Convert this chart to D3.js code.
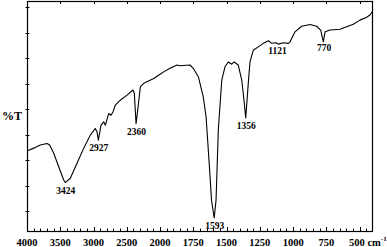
<!DOCTYPE html>
<html>
<head>
<meta charset="utf-8">
<script src="https://cdn.jsdelivr.net/npm/d3@7"></script>
<style>
  body { margin: 0; background: #fff; }
  text { font-family: "Liberation Serif", "Times New Roman", serif; font-weight: bold; fill: #000; }
</style>
</head>
<body>
<script>
// data
const wavenumbers = [4000, 3899, 3800, 3699, 3659, 3598, 3523, 3448, 3424, 3349,
  3248, 3147, 3048, 2973, 2947, 2927, 2887, 2846, 2822, 2771,
  2737, 2707, 2672, 2597, 2496, 2406, 2386, 2360, 2335, 2296,
  2245, 2094, 2000, 1972, 1925, 1872, 1850, 1775, 1750, 1712,
  1675, 1654, 1632, 1613, 1593, 1579, 1562, 1536, 1512, 1487,
  1461, 1444, 1412, 1386, 1369, 1356, 1337, 1324, 1299, 1262,
  1224, 1186, 1161, 1129, 1111, 1074, 1036, 1023, 986, 936,
  873, 823, 793, 773, 760, 723, 648, 598, 548, 498,
  448, 423, 406];
const transmittance = [33.6, 34.7, 35.9, 36.5, 35.9, 32.7, 27.4, 22.2, 21.2, 22.9,
  28.8, 34.7, 39.8, 42.4, 41.1, 37.8, 43.7, 45.0, 43.7, 48.3,
  47.6, 48.9, 51.6, 53.5, 55.5, 57.5, 56.2, 44.3, 49.6, 58.7,
  60.1, 62.0, 63.7, 64.6, 66.0, 67.3, 67.0, 67.3, 66.0, 62.7,
  54.8, 47.0, 30.0, 14.3, 7.3, 14.3, 41.8, 61.4, 66.6, 68.5,
  67.6, 68.5, 67.3, 61.4, 53.5, 46.5, 60.1, 68.5, 73.1, 74.4,
  75.8, 76.8, 75.8, 76.0, 75.5, 76.0, 75.8, 76.4, 80.3, 82.5,
  83.2, 82.5, 81.0, 76.4, 80.3, 81.0, 81.3, 82.3, 83.3, 84.9,
  86.0, 86.9, 88.2];

const peakLabels = ["3424", "2927", "2360", "1593", "1356", "1121", "770"];
const peakWavenumbers = [3424, 2927, 2360, 1593, 1356, 1121, 770];

const xTickValues = [4000, 3500, 3000, 2500, 2000, 1750, 1500, 1250, 1000, 750, 500];
const yTickValues = [10, 20, 30, 40, 50, 60, 70, 80, 90];

// layout
const W = 387, H = 247;
const plot = { left: 27, right: 373, top: 1, bottom: 231 };

const svg = d3.select('body').append('svg')
  .attr('width', W)
  .attr('height', H);

// split wavenumber axis (compressed above 2000)
const x = d3.scaleLinear()
  .domain([4000, 2000, 400])
  .range([plot.left, 160, plot.right]);

const y = d3.scaleLinear()
  .domain([2.2, 92.4])
  .range([plot.bottom, plot.top]);

// minor ticks: every 100 above 2000, every 50 below
const minorTicks = d3.range(4000, 2000, -100).concat(d3.range(2000, 400, -50));

const frame = svg.append('g');

frame.append('rect')
  .attr('x', plot.left + 0.5)
  .attr('y', plot.top + 0.5)
  .attr('width', plot.right - plot.left - 1)
  .attr('height', plot.bottom - plot.top)
  .attr('fill', 'none')
  .attr('stroke', '#000')
  .attr('stroke-width', 1.2);

// bottom minor ticks
frame.selectAll('.minor')
  .data(minorTicks)
  .enter().append('line')
  .attr('x1', d => Math.round(x(d)) + 0.5)
  .attr('x2', d => Math.round(x(d)) + 0.5)
  .attr('y1', plot.bottom)
  .attr('y2', plot.bottom - 2.5)
  .attr('stroke', '#000');

// bottom and top major ticks
frame.selectAll('.major')
  .data(xTickValues)
  .enter().append('line')
  .attr('x1', d => Math.round(x(d)) + 0.5)
  .attr('x2', d => Math.round(x(d)) + 0.5)
  .attr('y1', plot.bottom)
  .attr('y2', plot.bottom - 4)
  .attr('stroke', '#000');

frame.selectAll('.topTick')
  .data(xTickValues.slice(1))
  .enter().append('line')
  .attr('x1', d => Math.round(x(d)) + 0.5)
  .attr('x2', d => Math.round(x(d)) + 0.5)
  .attr('y1', plot.top)
  .attr('y2', plot.top + 3)
  .attr('stroke', '#000');

// left ticks cross the axis
frame.selectAll('.yTick')
  .data(yTickValues)
  .enter().append('line')
  .attr('x1', plot.left - 1.5)
  .attr('x2', plot.left + 2.5)
  .attr('y1', d => Math.round(y(d)) + 0.5)
  .attr('y2', d => Math.round(y(d)) + 0.5)
  .attr('stroke', '#000');

// tick labels
svg.selectAll('.xLabel')
  .data(xTickValues.slice(0, -1))
  .enter().append('text')
  .attr('x', d => x(d))
  .attr('y', 246)
  .attr('text-anchor', 'middle')
  .style('font-size', '10.5px')
  .text(d => d);

const unit = svg.append('text')
  .attr('x', 349)
  .attr('y', 246)
  .style('font-size', '10.5px')
  .text(xTickValues[xTickValues.length - 1] + ' cm');
unit.append('tspan')
  .attr('dy', -5)
  .style('font-size', '7px')
  .text('-1');

svg.append('text')
  .attr('x', 2)
  .attr('y', 120)
  .style('font-size', '12px')
  .text('%T');

// spectrum
const points = wavenumbers.map((w, i) => [w, transmittance[i]]);

svg.append('path')
  .datum(points)
  .attr('fill', 'none')
  .attr('stroke', '#000')
  .attr('stroke-width', 1.1)
  .attr('stroke-linejoin', 'round')
  .attr('d', d3.line()
    .x(d => x(d[0]))
    .y(d => y(d[1])));

// peak labels sit just below the curve
const tAt = w => {
  const i = wavenumbers.findIndex(v => v <= w);
  if (i <= 0) return transmittance[Math.max(i, 0)];
  const w0 = wavenumbers[i - 1], w1 = wavenumbers[i];
  const t = (w0 - w) / (w0 - w1);
  return transmittance[i - 1] + t * (transmittance[i] - transmittance[i - 1]);
};

svg.selectAll('.peak')
  .data(peakLabels)
  .enter().append('text')
  .attr('x', (d, i) => x(peakWavenumbers[i]) + 0.5)
  .attr('y', (d, i) => Math.min(y(tAt(peakWavenumbers[i])) + 11, 228.5))
  .attr('text-anchor', 'middle')
  .style('font-size', '9.5px')
  .text(d => d);
</script>
</body>
</html>
